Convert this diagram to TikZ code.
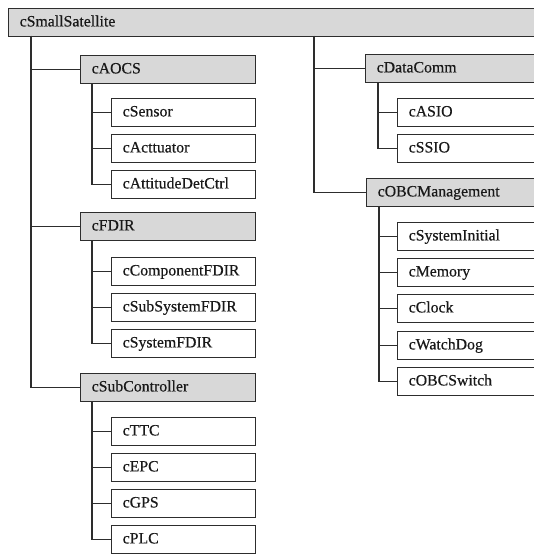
\documentclass[tikz,border=0pt]{standalone}
\usepackage{fontspec}
\setmainfont{Liberation Serif}
\newfontfamily\labelfont[FakeBold=0.4]{Liberation Serif}
\definecolor{linegray}{RGB}{45,45,45}
\definecolor{shade}{RGB}{216,216,216}
\definecolor{ink}{RGB}{25,25,25}
\tikzset{
  cls/.style={draw=linegray, line width=1.4bp, rectangle, anchor=north west,
    minimum height=28bp, inner xsep=11bp, inner ysep=0pt, align=left,
    text=ink, text height=11bp, text depth=3.5bp,
    font=\labelfont\fontsize{15.8bp}{18bp}\selectfont},
  group/.style={cls, fill=shade},
  leaf/.style={cls, fill=white},
  link/.style={draw=linegray, line width=1.4bp}
}
\begin{document}
\begin{tikzpicture}[x=1bp,y=-1bp]
\useasboundingbox (0,0) rectangle (534,554);
\fill[white] (0,0) rectangle (534,554);
\clip (0,0) rectangle (534,554);

% root class
\node[group, text width=515bp] (root) at (8,8) {cSmallSatellite};
\coordinate (ltrunk) at (31,36);
\coordinate (rtrunk) at (314,36);

% left branch
\node[group, text width=153bp] (aocs) at (80,55) {cAOCS};
\node[leaf, text width=122bp] (sensor) at (111,98) {cSensor};
\node[leaf, text width=122bp] (act) at (111,134) {cActtuator};
\node[leaf, text width=122bp] (att) at (111,170) {cAttitudeDetCtrl};

\node[group, text width=153bp] (fdir) at (80,212) {cFDIR};
\node[leaf, text width=122bp] (comp) at (111,257) {cComponentFDIR};
\node[leaf, text width=122bp] (subsys) at (111,293) {cSubSystemFDIR};
\node[leaf, text width=122bp] (sysf) at (111,329) {cSystemFDIR};

\node[group, text width=153bp] (subc) at (80,373) {cSubController};
\node[leaf, text width=122bp] (ttc) at (111,417) {cTTC};
\node[leaf, text width=122bp] (epc) at (111,453) {cEPC};
\node[leaf, text width=122bp] (gps) at (111,489) {cGPS};
\node[leaf, text width=122bp] (plc) at (111,525) {cPLC};

% right branch
\node[group, text width=158bp] (dc) at (365,54) {cDataComm};
\node[leaf, text width=126bp] (asio) at (397,98) {cASIO};
\node[leaf, text width=126bp] (ssio) at (397,134) {cSSIO};

\node[group, text width=158bp] (obc) at (366,178) {cOBCManagement};
\node[leaf, text width=126bp] (init) at (397,222) {cSystemInitial};
\node[leaf, text width=126bp] (mem) at (397,258) {cMemory};
\node[leaf, text width=126bp] (clk) at (397,294) {cClock};
\node[leaf, text width=126bp] (wd) at (397,331) {cWatchDog};
\node[leaf, text width=126bp] (sw) at (397,367) {cOBCSwitch};

% connectors
\foreach \g in {aocs,fdir,subc} \draw[link] (ltrunk) |- (\g.west);
\foreach \g in {dc,obc} \draw[link] (rtrunk) |- (\g.west);
\foreach \c in {sensor,act,att} \draw[link] ([xshift=12bp]aocs.south west) |- (\c.west);
\foreach \c in {comp,subsys,sysf} \draw[link] ([xshift=12bp]fdir.south west) |- (\c.west);
\foreach \c in {ttc,epc,gps,plc} \draw[link] ([xshift=12bp]subc.south west) |- (\c.west);
\foreach \c in {asio,ssio} \draw[link] ([xshift=13bp]dc.south west) |- (\c.west);
\foreach \c in {init,mem,clk,wd,sw} \draw[link] ([xshift=13bp]obc.south west) |- (\c.west);
\end{tikzpicture}
\end{document}
